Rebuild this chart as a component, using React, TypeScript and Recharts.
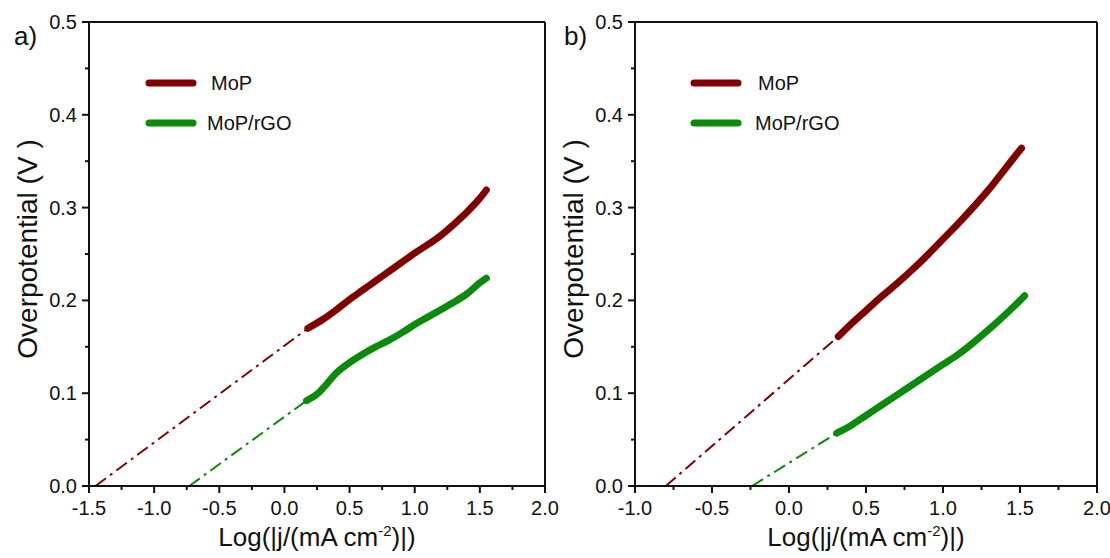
import { Legend, Line, LineChart, ReferenceLine, XAxis, YAxis } from "recharts";

const FONT = '"Liberation Sans", Arial, Helvetica, sans-serif';
const AXIS_COLOR = "#111";
const MOP_COLOR = "#800000"; // MoP (dark red)
const RGO_COLOR = "#0b8a0b"; // MoP/rGO (green)

const SERIES_NAMES = ["MoP", "MoP/rGO"];

// ticks (major every 0.1 / 0.5, minor in between)
const Y_TICKS = [0, 0.05, 0.1, 0.15, 0.2, 0.25, 0.3, 0.35, 0.4, 0.45, 0.5];
const A_X_TICKS = [-1.5, -1.25, -1, -0.75, -0.5, -0.25, 0, 0.25, 0.5, 0.75, 1, 1.25, 1.5, 1.75, 2];
const B_X_TICKS = [-1, -0.75, -0.5, -0.25, 0, 0.25, 0.5, 0.75, 1, 1.25, 1.5, 1.75, 2];

// panel a) Tafel curves
const A_MOP_X = [0.18, 0.3, 0.4, 0.5, 0.6, 0.7, 0.8, 0.9, 1.0, 1.1, 1.2, 1.3, 1.4, 1.5, 1.55];
const A_MOP_Y = [0.17, 0.18, 0.19, 0.201, 0.211, 0.221, 0.231, 0.241, 0.251, 0.26, 0.27, 0.282, 0.295, 0.31, 0.319];
const A_RGO_X = [0.17, 0.25, 0.3, 0.4, 0.5, 0.6, 0.7, 0.8, 0.9, 1.0, 1.1, 1.2, 1.3, 1.4, 1.5, 1.55];
const A_RGO_Y = [0.092, 0.099, 0.106, 0.122, 0.133, 0.142, 0.15, 0.157, 0.165, 0.174, 0.182, 0.19, 0.198, 0.207, 0.219, 0.224];
// panel a) linear fits (dash-dot)
const A_MOP_FIT_X = [-1.45, 0.18];
const A_MOP_FIT_Y = [0, 0.17];
const A_RGO_FIT_X = [-0.73, 0.17];
const A_RGO_FIT_Y = [0, 0.092];

// panel b) Tafel curves
const B_MOP_X = [0.32, 0.4, 0.5, 0.6, 0.7, 0.8, 0.9, 1.0, 1.1, 1.2, 1.3, 1.4, 1.5, 1.51];
const B_MOP_Y = [0.161, 0.174, 0.189, 0.204, 0.218, 0.233, 0.249, 0.266, 0.283, 0.301, 0.32, 0.341, 0.362, 0.364];
const B_RGO_X = [0.31, 0.4, 0.5, 0.6, 0.7, 0.8, 0.9, 1.0, 1.1, 1.2, 1.3, 1.4, 1.5, 1.53];
const B_RGO_Y = [0.057, 0.065, 0.076, 0.087, 0.098, 0.109, 0.12, 0.131, 0.142, 0.155, 0.169, 0.184, 0.2, 0.205];
// panel b) linear fits (dash-dot)
const B_MOP_FIT_X = [-0.8, 0.32];
const B_MOP_FIT_Y = [0, 0.161];
const B_RGO_FIT_X = [-0.24, 0.31];
const B_RGO_FIT_Y = [0, 0.057];

const zip = (xs: number[], ys: number[]) => xs.map((x, i) => ({ x, y: ys[i] }));

const isMultiple = (v: number, step: number) =>
  Math.abs(v / step - Math.round(v / step)) < 1e-6;

function XTick({ x, y, payload }: any) {
  const major = isMultiple(payload.value, 0.5);
  return (
    <g>
      <line x1={x} x2={x} y1={y} y2={y + (major ? 7 : 4)} stroke={AXIS_COLOR} strokeWidth={2} />
      {major && (
        <text x={x} y={y + 29} textAnchor="middle" fontSize={20} fontFamily={FONT} fill="#111">
          {payload.value.toFixed(1)}
        </text>
      )}
    </g>
  );
}

function YTick({ x, y, payload }: any) {
  const major = isMultiple(payload.value, 0.1);
  return (
    <g>
      <line x1={x - (major ? 7 : 4)} x2={x} y1={y} y2={y} stroke={AXIS_COLOR} strokeWidth={2} />
      {major && (
        <text x={x - 12} y={y} dy="0.35em" textAnchor="end" fontSize={20} fontFamily={FONT} fill="#111">
          {payload.value.toFixed(1)}
        </text>
      )}
    </g>
  );
}

function XTitle({ viewBox }: any) {
  const cx = viewBox.x + viewBox.width / 2;
  const cy = viewBox.y + 60;
  return (
    <text x={cx} y={cy} textAnchor="middle" fontSize={26} fontFamily={FONT} fill="#111">
      Log(|j/(mA cm
      <tspan dy={-10} fontSize={15}>-2</tspan>
      <tspan dy={10}>)|)</tspan>
    </text>
  );
}

function YTitle({ viewBox, tag, tagX }: any) {
  const cx = viewBox.x + viewBox.width - 62;
  const cy = viewBox.y + viewBox.height / 2 - 5;
  return (
    <g>
      <text
        x={cx}
        y={cy}
        transform={`rotate(-90 ${cx} ${cy})`}
        textAnchor="middle"
        dy="0.35em"
        fontSize={28}
        fontFamily={FONT}
        fill="#111"
      >
        Overpotential (V )
      </text>
      <text x={tagX} y={45} fontSize={26} fontFamily={FONT} fill="#111">
        {tag}
      </text>
    </g>
  );
}

function LegendBox({ textX }: { textX: number[] }) {
  const colors = [MOP_COLOR, RGO_COLOR];
  return (
    <svg width={200} height={66}>
      {SERIES_NAMES.map((name, i) => (
        <g key={name}>
          <line
            x1={9}
            x2={53}
            y1={13 + i * 40}
            y2={13 + i * 40}
            stroke={colors[i]}
            strokeWidth={7}
            strokeLinecap="round"
          />
          <text x={textX[i]} y={13 + i * 40} dy="0.35em" fontSize={20} fontFamily={FONT} fill="#111">
            {name}
          </text>
        </g>
      ))}
    </svg>
  );
}

interface PanelProps {
  tag: string;
  tagX: number;
  xTicks: number[];
  mop: { x: number; y: number }[];
  rgo: { x: number; y: number }[];
  mopFit: { x: number; y: number }[];
  rgoFit: { x: number; y: number }[];
  width: number;
  marginLeft: number;
  marginRight: number;
  legendLeft: number;
  legendTextX: number[];
}

function Panel(p: PanelProps) {
  const domain: [number, number] = [p.xTicks[0], p.xTicks[p.xTicks.length - 1]];
  return (
    <LineChart
      width={p.width}
      height={558}
      margin={{ top: 22, right: p.marginRight, bottom: 32, left: p.marginLeft }}
    >
      <XAxis
        type="number"
        dataKey="x"
        domain={domain}
        ticks={p.xTicks}
        interval={0}
        allowDataOverflow
        height={40}
        tickSize={0}
        tickMargin={0}
        tickLine={false}
        axisLine={{ stroke: AXIS_COLOR, strokeWidth: 2 }}
        tick={(props: any) => <XTick {...props} />}
        label={(props: any) => <XTitle {...props} />}
      />
      <YAxis
        type="number"
        domain={[0, 0.5]}
        ticks={Y_TICKS}
        interval={0}
        allowDataOverflow
        width={60}
        tickSize={0}
        tickMargin={0}
        tickLine={false}
        axisLine={{ stroke: AXIS_COLOR, strokeWidth: 2 }}
        tick={(props: any) => <YTick {...props} />}
        label={(props: any) => <YTitle {...props} tag={p.tag} tagX={p.tagX} />}
      />
      <ReferenceLine y={0.5} stroke={AXIS_COLOR} strokeWidth={2} />
      <ReferenceLine x={domain[1]} stroke={AXIS_COLOR} strokeWidth={2} />
      <Line
        data={p.mopFit}
        dataKey="y"
        type="linear"
        stroke={MOP_COLOR}
        strokeWidth={2}
        strokeDasharray="13 5 3 5"
        dot={false}
        activeDot={false}
        legendType="none"
        isAnimationActive={false}
      />
      <Line
        data={p.rgoFit}
        dataKey="y"
        type="linear"
        stroke={RGO_COLOR}
        strokeWidth={2}
        strokeDasharray="13 5 3 5"
        dot={false}
        activeDot={false}
        legendType="none"
        isAnimationActive={false}
      />
      <Line
        data={p.mop}
        dataKey="y"
        name="MoP"
        type="monotone"
        stroke={MOP_COLOR}
        strokeWidth={7}
        strokeLinecap="round"
        dot={false}
        activeDot={false}
        isAnimationActive={false}
      />
      <Line
        data={p.rgo}
        dataKey="y"
        name="MoP/rGO"
        type="monotone"
        stroke={RGO_COLOR}
        strokeWidth={7}
        strokeLinecap="round"
        dot={false}
        activeDot={false}
        isAnimationActive={false}
      />
      <Legend
        layout="vertical"
        align="center"
        verticalAlign="middle"
        wrapperStyle={{ left: p.legendLeft, top: 70, width: 200, height: 66 }}
        content={() => <LegendBox textX={p.legendTextX} />}
      />
    </LineChart>
  );
}

export default function App() {
  return (
    <div
      style={{
        position: "absolute",
        left: 0,
        top: 0,
        width: 1110,
        height: 558,
        background: "#fff",
        fontFamily: FONT,
        overflow: "hidden",
      }}
    >
      <div style={{ position: "absolute", left: 0, top: 0 }}>
        <Panel
          tag="a)"
          tagX={14}
          xTicks={A_X_TICKS}
          mop={zip(A_MOP_X, A_MOP_Y)}
          rgo={zip(A_RGO_X, A_RGO_Y)}
          mopFit={zip(A_MOP_FIT_X, A_MOP_FIT_Y)}
          rgoFit={zip(A_RGO_FIT_X, A_RGO_FIT_Y)}
          width={575}
          marginLeft={29}
          marginRight={30}
          legendLeft={140}
          legendTextX={[71, 67]}
        />
      </div>
      <div style={{ position: "absolute", left: 555, top: 0 }}>
        <Panel
          tag="b)"
          tagX={9}
          xTicks={B_X_TICKS}
          mop={zip(B_MOP_X, B_MOP_Y)}
          rgo={zip(B_RGO_X, B_RGO_Y)}
          mopFit={zip(B_MOP_FIT_X, B_MOP_FIT_Y)}
          rgoFit={zip(B_RGO_FIT_X, B_RGO_FIT_Y)}
          width={555}
          marginLeft={20}
          marginRight={13}
          legendLeft={130}
          legendTextX={[73, 70]}
        />
      </div>
    </div>
  );
}
